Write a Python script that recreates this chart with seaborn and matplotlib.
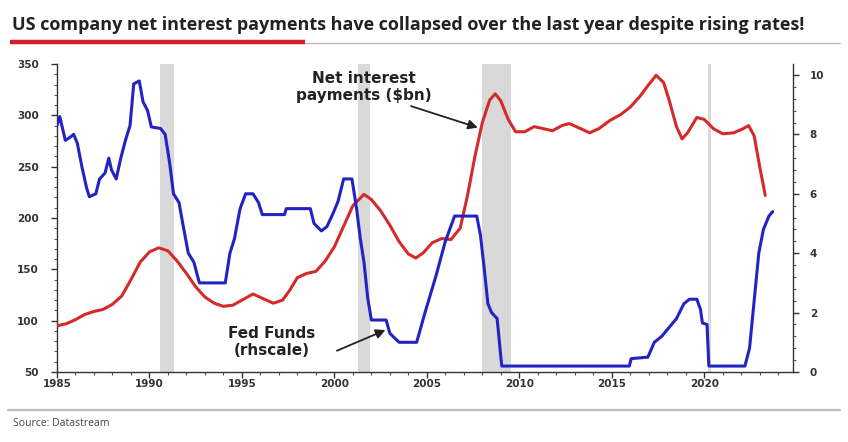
import matplotlib
matplotlib.use("Agg")
import matplotlib.pyplot as plt
from matplotlib.lines import Line2D
from matplotlib.ticker import MultipleLocator
import seaborn as sns
import pandas as pd

# ---------------- data ----------------
ni_years = [1985.0, 1985.5, 1986.0, 1986.5, 1987.0, 1987.5, 1988.0, 1988.5, 1989.0, 1989.5,
            1990.0, 1990.5, 1991.0, 1991.5, 1992.0, 1992.5, 1993.0, 1993.5, 1994.0, 1994.5,
            1995.0, 1995.6, 1996.2, 1996.7, 1997.2, 1997.6, 1998.0, 1998.5, 1999.0, 1999.5,
            2000.0, 2000.5, 2001.0, 2001.6, 2002.0, 2002.5, 2003.0, 2003.5, 2004.0, 2004.4,
            2004.8, 2005.3, 2005.8, 2006.3, 2006.8, 2007.2, 2007.6, 2008.0, 2008.4, 2008.7,
            2009.0, 2009.4, 2009.8, 2010.3, 2010.8, 2011.3, 2011.8, 2012.3, 2012.7, 2013.2,
            2013.8, 2014.3, 2014.9, 2015.5, 2016.0, 2016.5, 2017.0, 2017.4, 2017.8, 2018.1,
            2018.5, 2018.8, 2019.1, 2019.6, 2020.0, 2020.5, 2021.0, 2021.6, 2022.1, 2022.4,
            2022.7, 2023.0, 2023.3]
ni_values = [95, 97, 101, 106, 109, 111, 116, 124, 140, 157,
             167, 171, 168, 158, 146, 133, 123, 117, 114, 115,
             120, 126, 121, 117, 120, 130, 142, 146, 148, 158,
             172, 192, 212, 223, 218, 207, 193, 177, 165, 161,
             166, 176, 180, 179, 190, 222, 260, 293, 315, 321,
             314, 296, 284, 284, 289, 287, 285, 290, 292, 288,
             283, 287, 295, 301, 308, 318, 330, 339, 332, 315,
             289, 277, 283, 298, 296, 287, 282, 283, 287, 290,
             280, 250, 222]

ff_years = [1985.0, 1985.15, 1985.3, 1985.45, 1985.7, 1985.9, 1986.1, 1986.35, 1986.6, 1986.75,
            1987.1, 1987.3, 1987.6, 1987.8, 1987.95, 1988.2, 1988.45, 1988.7, 1988.95, 1989.15,
            1989.45, 1989.65, 1989.9, 1990.1, 1990.6, 1990.85, 1991.1, 1991.3, 1991.6, 1991.8,
            1992.1, 1992.4, 1992.7, 1994.1, 1994.35, 1994.6, 1994.9, 1995.2, 1995.6, 1995.9,
            1996.1, 1997.3, 1997.4, 1998.7, 1998.9, 1999.3, 1999.6, 1999.9, 2000.2, 2000.5,
            2000.95, 2001.2, 2001.4, 2001.6, 2001.8, 2002.0, 2002.8, 2003.0, 2003.5, 2004.45,
            2004.9, 2005.5, 2006.0, 2006.5, 2007.7, 2007.9, 2008.1, 2008.3, 2008.5, 2008.8,
            2009.05, 2015.95, 2016.05, 2016.95, 2017.3, 2017.7, 2018.1, 2018.5, 2018.9, 2019.2,
            2019.6, 2019.8, 2019.9, 2020.15, 2020.25, 2022.2, 2022.45, 2022.7, 2022.95, 2023.2,
            2023.5, 2023.7]
ff_values = [8.3, 8.6, 8.2, 7.8, 7.9, 8.0, 7.7, 6.9, 6.2, 5.9,
             6.0, 6.5, 6.7, 7.2, 6.8, 6.5, 7.2, 7.8, 8.3, 9.7,
             9.8, 9.1, 8.8, 8.25, 8.2, 8.0, 7.0, 6.0, 5.7, 5.0,
             4.0, 3.7, 3.0, 3.0, 4.0, 4.5, 5.5, 6.0, 6.0, 5.7,
             5.3, 5.3, 5.5, 5.5, 5.0, 4.75, 4.9, 5.3, 5.75, 6.5,
             6.5, 5.5, 4.5, 3.7, 2.5, 1.75, 1.75, 1.3, 1.0, 1.0,
             2.0, 3.25, 4.4, 5.25, 5.25, 4.6, 3.5, 2.3, 2.0, 1.8,
             0.2, 0.2, 0.45, 0.5, 1.0, 1.2, 1.5, 1.8, 2.3, 2.45,
             2.45, 2.1, 1.65, 1.6, 0.2, 0.2, 0.8, 2.4, 4.0, 4.8,
             5.25, 5.4]

recession_starts = [1990.55, 2001.25, 2008.0, 2020.2]
recession_ends = [1991.3, 2001.95, 2009.55, 2020.35]

x_ticks = [1985, 1990, 1995, 2000, 2005, 2010, 2015, 2020]
left_ticks = [50, 100, 150, 200, 250, 300, 350]
right_ticks = [0, 2, 4, 6, 8, 10]

title = "US company net interest payments have collapsed over the last year despite rising rates!"
source = "Source: Datastream"

ni_df = pd.DataFrame({"year": ni_years, "value": ni_values})
ff_df = pd.DataFrame({"year": ff_years, "value": ff_values})

# ---------------- style ----------------
sns.set_theme(style="white")
plt.rcParams["font.family"] = ["DejaVu Sans"]

W, H = 848, 442
fig = plt.figure(figsize=(W / 100, H / 100), dpi=100)
fig.patch.set_facecolor("white")

ax = fig.add_axes([57 / W, 1 - 372 / H, (793 - 57) / W, (372 - 64) / H])
ax2 = ax.twinx()
ax2.patch.set_visible(False)

RED = "#d42a2a"
BLUE = "#2323c4"

for s, e in zip(recession_starts, recession_ends):
    ax.axvspan(s, e, color="#d9d9d9", lw=0, zorder=0)

sns.lineplot(data=ni_df, x="year", y="value", ax=ax, color=RED, lw=2.2, zorder=3)
sns.lineplot(data=ff_df, x="year", y="value", ax=ax2, color=BLUE, lw=2.2, zorder=3)

ax.set_xlim(1985, 2024.8)
ax.set_ylim(50, 350)
ax2.set_ylim(0, 10.37)

ax.set_xticks(x_ticks)
ax.set_xticklabels([str(t) for t in x_ticks])
ax.xaxis.set_minor_locator(MultipleLocator(1))
ax.set_yticks(left_ticks)
ax.set_yticklabels([str(t) for t in left_ticks])
ax.yaxis.set_minor_locator(MultipleLocator(10))
ax2.set_yticks(right_ticks)
ax2.set_yticklabels([str(t) for t in right_ticks])
ax2.yaxis.set_minor_locator(MultipleLocator(0.4))

for a in (ax, ax2):
    a.set_xlabel("")
    a.set_ylabel("")
    a.spines["top"].set_visible(False)
    for sp in ("left", "bottom", "right"):
        a.spines[sp].set_color("#333333")
        a.spines[sp].set_linewidth(1.0)
    a.tick_params(which="major", direction="out", length=4, width=1, color="#333333",
                  labelsize=7.5, labelcolor="#333333")
    a.tick_params(which="minor", direction="out", length=2, width=0.8, color="#555555")
    for lab in a.get_xticklabels() + a.get_yticklabels():
        lab.set_fontweight("bold")

ax.tick_params(axis="y", which="both", left=True, right=False, pad=9)
ax.tick_params(axis="x", which="both", bottom=True, pad=1)
ax2.tick_params(axis="y", which="both", right=True, left=False, pad=8)
ax2.spines["left"].set_visible(False)
ax2.spines["bottom"].set_visible(False)
ax.spines["right"].set_visible(False)

# ---------------- annotations ----------------
ax2.annotate("", xy=(2007.9, 8.2), xytext=(2004.0, 8.98),
             arrowprops=dict(arrowstyle="-|>", color="#222222", lw=1.3, mutation_scale=14),
             zorder=6)
ax2.text(2001.6, 9.6, "Net interest\npayments ($bn)", ha="center", va="center",
         fontsize=11, fontweight="bold", color="#222222", linespacing=1.2, zorder=6)

ax2.annotate("", xy=(2002.9, 1.45), xytext=(2000.0, 0.68),
             arrowprops=dict(arrowstyle="-|>", color="#222222", lw=1.3, mutation_scale=14),
             zorder=6)
ax2.text(1996.6, 1.0, "Fed Funds\n(rhscale)", ha="center", va="center",
         fontsize=11, fontweight="bold", color="#222222", linespacing=1.2, zorder=6)

# ---------------- title, rules, source ----------------
fig.text(12 / W, 1 - 25 / H, title, ha="left", va="center", fontsize=13,
         fontweight="bold", family=["Open Sans", "DejaVu Sans"], color="#222222")
fig.add_artist(Line2D([10 / W, 305 / W], [1 - 42 / H, 1 - 42 / H], transform=fig.transFigure,
                      color="#d0202a", lw=3.2, solid_capstyle="butt"))
fig.add_artist(Line2D([305 / W, 840 / W], [1 - 42.5 / H, 1 - 42.5 / H], transform=fig.transFigure,
                      color="#cdb4b4", lw=1.0))
fig.add_artist(Line2D([8 / W, 840 / W], [1 - 410 / H, 1 - 410 / H], transform=fig.transFigure,
                      color="#bdbdbd", lw=1.6))
fig.text(13 / W, 1 - 424 / H, source, ha="left", va="center", fontsize=7.5,
         family=["Open Sans", "DejaVu Sans"], color="#444444")

fig.savefig("out.png", dpi=100, facecolor="white")
